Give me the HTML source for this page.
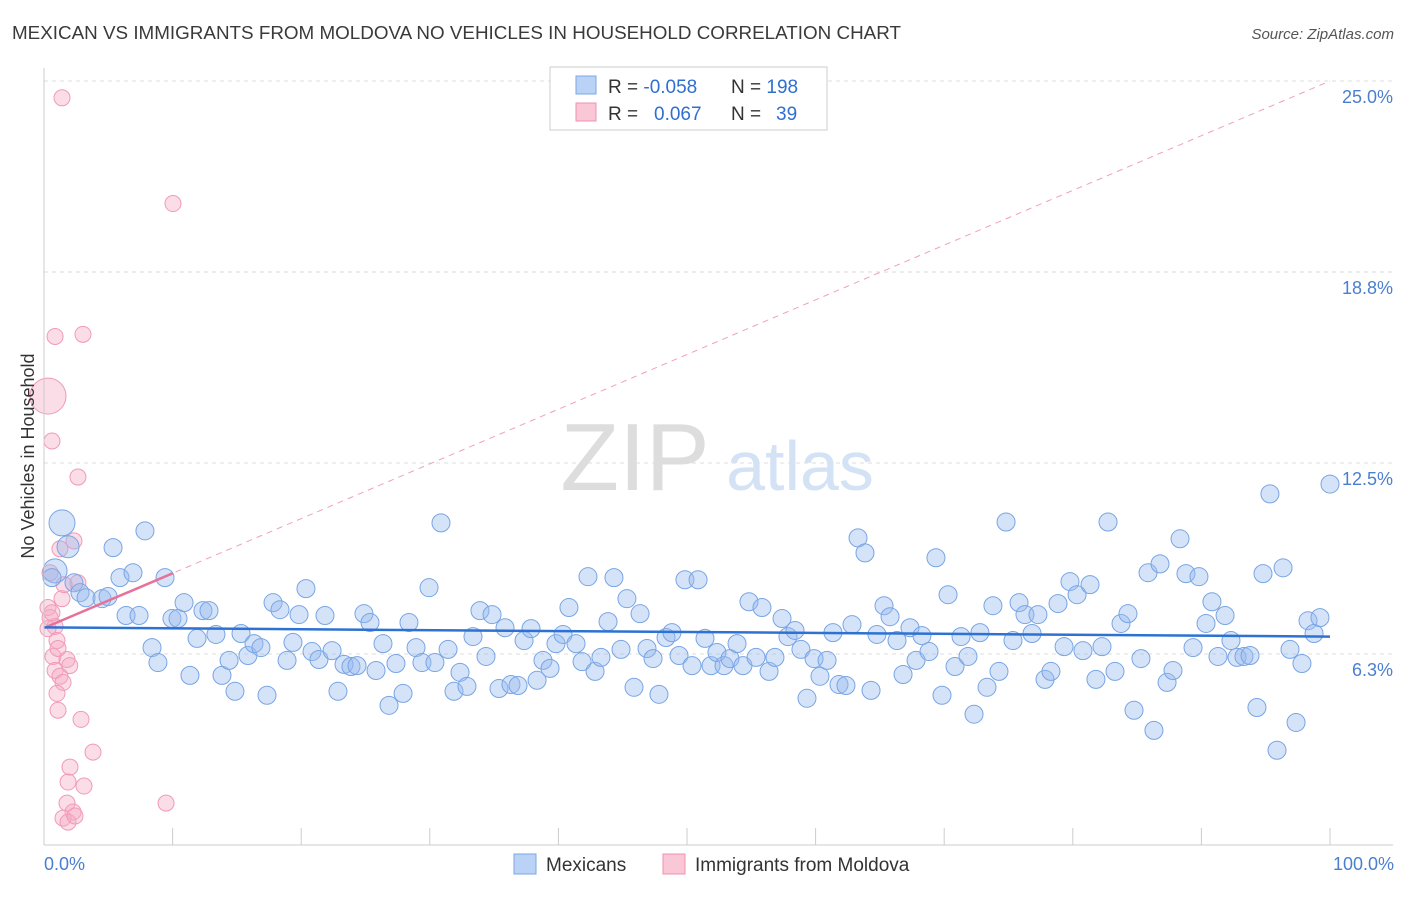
<!DOCTYPE html>
<html><head><meta charset="utf-8">
<style>
body{margin:0;background:#fff;font-family:"Liberation Sans",sans-serif;}
svg text{font-family:"Liberation Sans",sans-serif;}
</style></head>
<body>
<svg id="chart" width="1406" height="892" viewBox="0 0 1406 892" xmlns="http://www.w3.org/2000/svg">
<text x="12" y="39" font-size="18.5" fill="#3a3a3a" textLength="889" lengthAdjust="spacingAndGlyphs">MEXICAN VS IMMIGRANTS FROM MOLDOVA NO VEHICLES IN HOUSEHOLD CORRELATION CHART</text>
<text x="1394" y="39" font-size="15" fill="#555" text-anchor="end" font-style="italic">Source: ZipAtlas.com</text>
<g id="grid"></g>
<g>
<text x="635" y="490" font-size="96" fill="#ddd" font-family="Liberation Serif" text-anchor="middle">ZIP</text>
<text x="800" y="490" font-size="70" fill="#d4e2f5" text-anchor="middle">atlas</text>
</g>
<g id="pink"></g>
<g id="blue"></g>
<g id="trend"></g>
<g id="axes"></g>
<text x="34" y="456" font-size="18" fill="#333" text-anchor="middle" transform="rotate(-90 34 456)">No Vehicles in Household</text>
<text x="44" y="870" font-size="18" fill="#4a7fd0">0.0%</text>
<text x="1394" y="870" font-size="18" fill="#4a7fd0" text-anchor="end">100.0%</text>
<g>
<rect x="550" y="67" width="277" height="63" fill="#fff" stroke="#ccc"/>
<rect x="576" y="76" width="20" height="18" fill="#b9d2f5" stroke="#7aa7e6"/>
<rect x="576" y="103" width="20" height="18" fill="#f9c7d6" stroke="#f08fb0"/>
<text x="608" y="93" font-size="19" fill="#333">R = <tspan fill="#2f6fd0">-0.058</tspan></text>
<text x="731" y="93" font-size="19" fill="#333">N = <tspan fill="#2f6fd0">198</tspan></text>
<text x="608" y="120" font-size="19" fill="#333">R = <tspan fill="#2f6fd0" x="654">0.067</tspan></text>
<text x="731" y="120" font-size="19" fill="#333">N = <tspan fill="#2f6fd0" x="776">39</tspan></text>
</g>
<g>
<rect x="514" y="854" width="22" height="20" fill="#b9d2f5" stroke="#7aa7e6"/>
<text x="546" y="871" font-size="19" fill="#333">Mexicans</text>
<rect x="663" y="854" width="22" height="20" fill="#f9c7d6" stroke="#f08fb0"/>
<text x="695" y="871" font-size="19" fill="#333">Immigrants from Moldova</text>
</g>
</svg>
<script>
const yTicks=[6.25,12.5,18.75,25];
const yTickLabels=["6.3%","12.5%","18.8%","25.0%"];
const xTicks=[10,20,30,40,50,60,70,80,90,100];
const blueX=[1.4,1.87,0.86,0.62,2.33,2.8,3.27,4.51,4.98,5.37,5.91,6.38,6.92,7.39,7.85,8.4,8.86,9.41,9.95,10.42,10.89,11.35,11.9,12.36,12.83,13.37,13.84,14.39,14.85,15.32,15.86,16.33,16.87,17.34,17.81,18.35,18.9,19.36,19.83,20.37,20.84,21.38,21.85,22.4,22.86,23.33,23.87,24.34,24.88,25.35,25.82,26.36,26.83,27.37,27.92,28.38,28.93,29.39,29.94,30.4,30.87,31.42,31.88,32.35,32.89,33.36,33.9,34.37,34.84,35.38,35.85,36.31,36.86,37.33,37.87,38.34,38.8,39.35,39.81,40.36,40.82,41.37,41.84,42.3,42.85,43.31,43.86,44.32,44.87,45.33,45.88,46.35,46.89,47.36,47.82,48.37,48.83,49.38,49.84,50.39,50.86,51.4,51.87,52.33,52.88,53.34,53.89,54.35,54.82,55.37,55.83,56.38,56.84,57.39,57.85,58.4,58.86,59.33,59.88,60.34,60.89,61.35,61.82,62.36,62.83,63.3,63.84,64.31,64.77,65.32,65.79,66.33,66.8,67.34,67.81,68.27,68.82,69.36,69.83,70.3,70.84,71.31,71.85,72.32,72.78,73.33,73.79,74.26,74.81,75.35,75.82,76.28,76.83,77.29,77.84,78.3,78.85,79.32,79.78,80.33,80.79,81.34,81.8,82.27,82.74,83.28,83.75,84.29,84.76,85.3,85.85,86.31,86.78,87.33,87.79,88.34,88.8,89.35,89.81,90.36,90.82,91.29,91.84,92.3,92.77,93.31,93.78,94.32,94.79,95.33,95.88,96.35,96.89,97.36,97.82,98.29,98.76,99.22,100];
const blueY=[10.54,9.76,8.97,8.75,8.58,8.26,8.09,8.06,8.13,9.73,8.75,7.51,8.91,7.51,10.28,6.46,5.97,8.75,7.41,7.41,7.93,5.55,6.76,7.67,7.67,6.89,5.55,6.04,5.03,6.92,6.2,6.59,6.46,4.9,7.93,7.7,6.04,6.63,7.54,8.39,6.33,6.07,7.51,6.36,5.03,5.91,5.84,5.87,7.57,7.28,5.71,6.59,4.57,5.94,4.96,7.28,6.46,5.97,8.42,5.97,10.54,6.4,5.03,5.65,5.19,6.82,7.67,6.17,7.54,5.12,7.11,5.25,5.22,6.69,7.08,5.39,6.04,5.78,6.59,6.89,7.77,6.59,6.0,8.78,5.68,6.14,7.31,8.75,6.4,8.06,5.16,7.57,6.43,6.1,4.93,6.79,6.95,6.2,8.68,5.87,8.68,6.76,5.87,6.3,5.87,6.1,6.59,5.87,7.96,6.14,7.77,5.68,6.14,7.41,6.82,7.02,6.4,4.8,6.1,5.52,6.04,6.95,5.25,5.22,7.21,10.05,9.56,5.06,6.89,7.83,7.47,6.69,5.58,7.11,6.04,6.85,6.33,9.4,4.9,8.19,5.84,6.82,6.17,4.28,6.95,5.16,7.83,5.68,10.57,6.69,7.93,7.54,6.92,7.54,5.42,5.68,7.9,6.49,8.62,8.19,6.36,8.52,5.42,6.49,10.57,5.68,7.25,7.57,4.41,6.1,8.91,3.75,9.2,5.32,5.71,10.02,8.88,6.46,8.78,7.25,7.96,6.17,7.51,6.69,6.14,6.17,6.2,4.5,8.88,11.49,3.1,9.07,6.4,4.01,5.94,7.34,6.92,7.44,11.81];
const pinkX=[1.4,10.03,0.86,3.03,0.31,0.62,2.64,2.33,1.24,0.47,2.64,1.4,0.31,0.47,0.86,0.31,1.01,0.7,1.79,2.0,0.86,1.24,1.48,1.01,1.09,2.88,3.81,2.02,1.87,3.11,1.79,2.26,1.48,1.87,9.49,2.41,1.09,0.62,1.56];
const pinkY=[24.45,20.99,16.64,16.71,14.69,13.22,12.04,9.95,9.69,8.91,8.58,8.06,7.77,7.44,7.15,7.08,6.69,6.17,6.07,5.87,5.71,5.52,5.32,4.96,4.41,4.11,3.04,2.55,2.06,1.93,1.37,1.08,0.88,0.75,1.37,0.95,6.43,7.6,8.52];
const blueTrend=[7.12,6.82];
const pinkTrend=[7.1,25.0];
const X0=44,X1=1330,Y0=845,Y25=81;
function sx(v){return X0+(X1-X0)*v/100;}
function sy(v){return Y0-(Y0-Y25)*v/25;}
const NS="http://www.w3.org/2000/svg";
function mk(t,a,p){const e=document.createElementNS(NS,t);for(const k in a)e.setAttribute(k,a[k]);p.appendChild(e);return e;}
const grid=document.getElementById('grid'),axes=document.getElementById('axes');
yTicks.forEach((v,i)=>{
 const l=mk('line',{x1:44,x2:1393,y1:sy(v),y2:sy(v),stroke:'#ddd','stroke-dasharray':'4,4'},grid);
 
 
 const t=mk('text',{x:1393,y:sy(v)+22,'font-size':18,fill:'#4a7fd0','text-anchor':'end'},axes);
 t.textContent=yTickLabels[i];
 
 
});
const ya=mk('line',{x1:44,x2:44,y1:68,y2:845,stroke:'#ccc'},axes);


const xa=mk('line',{x1:44,x2:1393,y1:845,y2:845,stroke:'#ccc'},axes);


xTicks.forEach(v=>{
 const t=mk('line',{x1:sx(v),x2:sx(v),y1:828,y2:845,stroke:'#ccc'},axes);
 
 
});
const pg=document.getElementById('pink');
pinkX.forEach((v,i)=>{
 const r=i===4?18:8;
 const c=mk('circle',{cx:sx(v),cy:sy(pinkY[i]),r:r,fill:'rgba(246,170,196,0.4)',stroke:'#f19ab8','stroke-width':1},pg);
 
 
});
const bg=document.getElementById('blue');
blueX.forEach((v,i)=>{
 const r=i===0?13:(i===2?12:(i===1?11:9));
 const c=mk('circle',{cx:sx(v),cy:sy(blueY[i]),r:r,fill:'rgba(150,186,240,0.4)',stroke:'#78a5e4','stroke-width':1},bg);
 
 
});
const tg=document.getElementById('trend');
const pd=mk('line',{x1:sx(0),y1:sy(pinkTrend[0]),x2:sx(100),y2:sy(pinkTrend[1]),stroke:'#f0a0bc','stroke-width':1,'stroke-dasharray':'6,5'},tg);


const pEnd=10;
const ps=mk('line',{x1:sx(0),y1:sy(pinkTrend[0]),x2:sx(pEnd),y2:sy(pinkTrend[0]+(pinkTrend[1]-pinkTrend[0])*pEnd/100),stroke:'#e8719a','stroke-width':2.5},tg);


const bl=mk('line',{x1:sx(0),y1:sy(blueTrend[0]),x2:sx(100),y2:sy(blueTrend[1]),stroke:'#2d72d2','stroke-width':2.5},tg);


</script>
</body></html>
